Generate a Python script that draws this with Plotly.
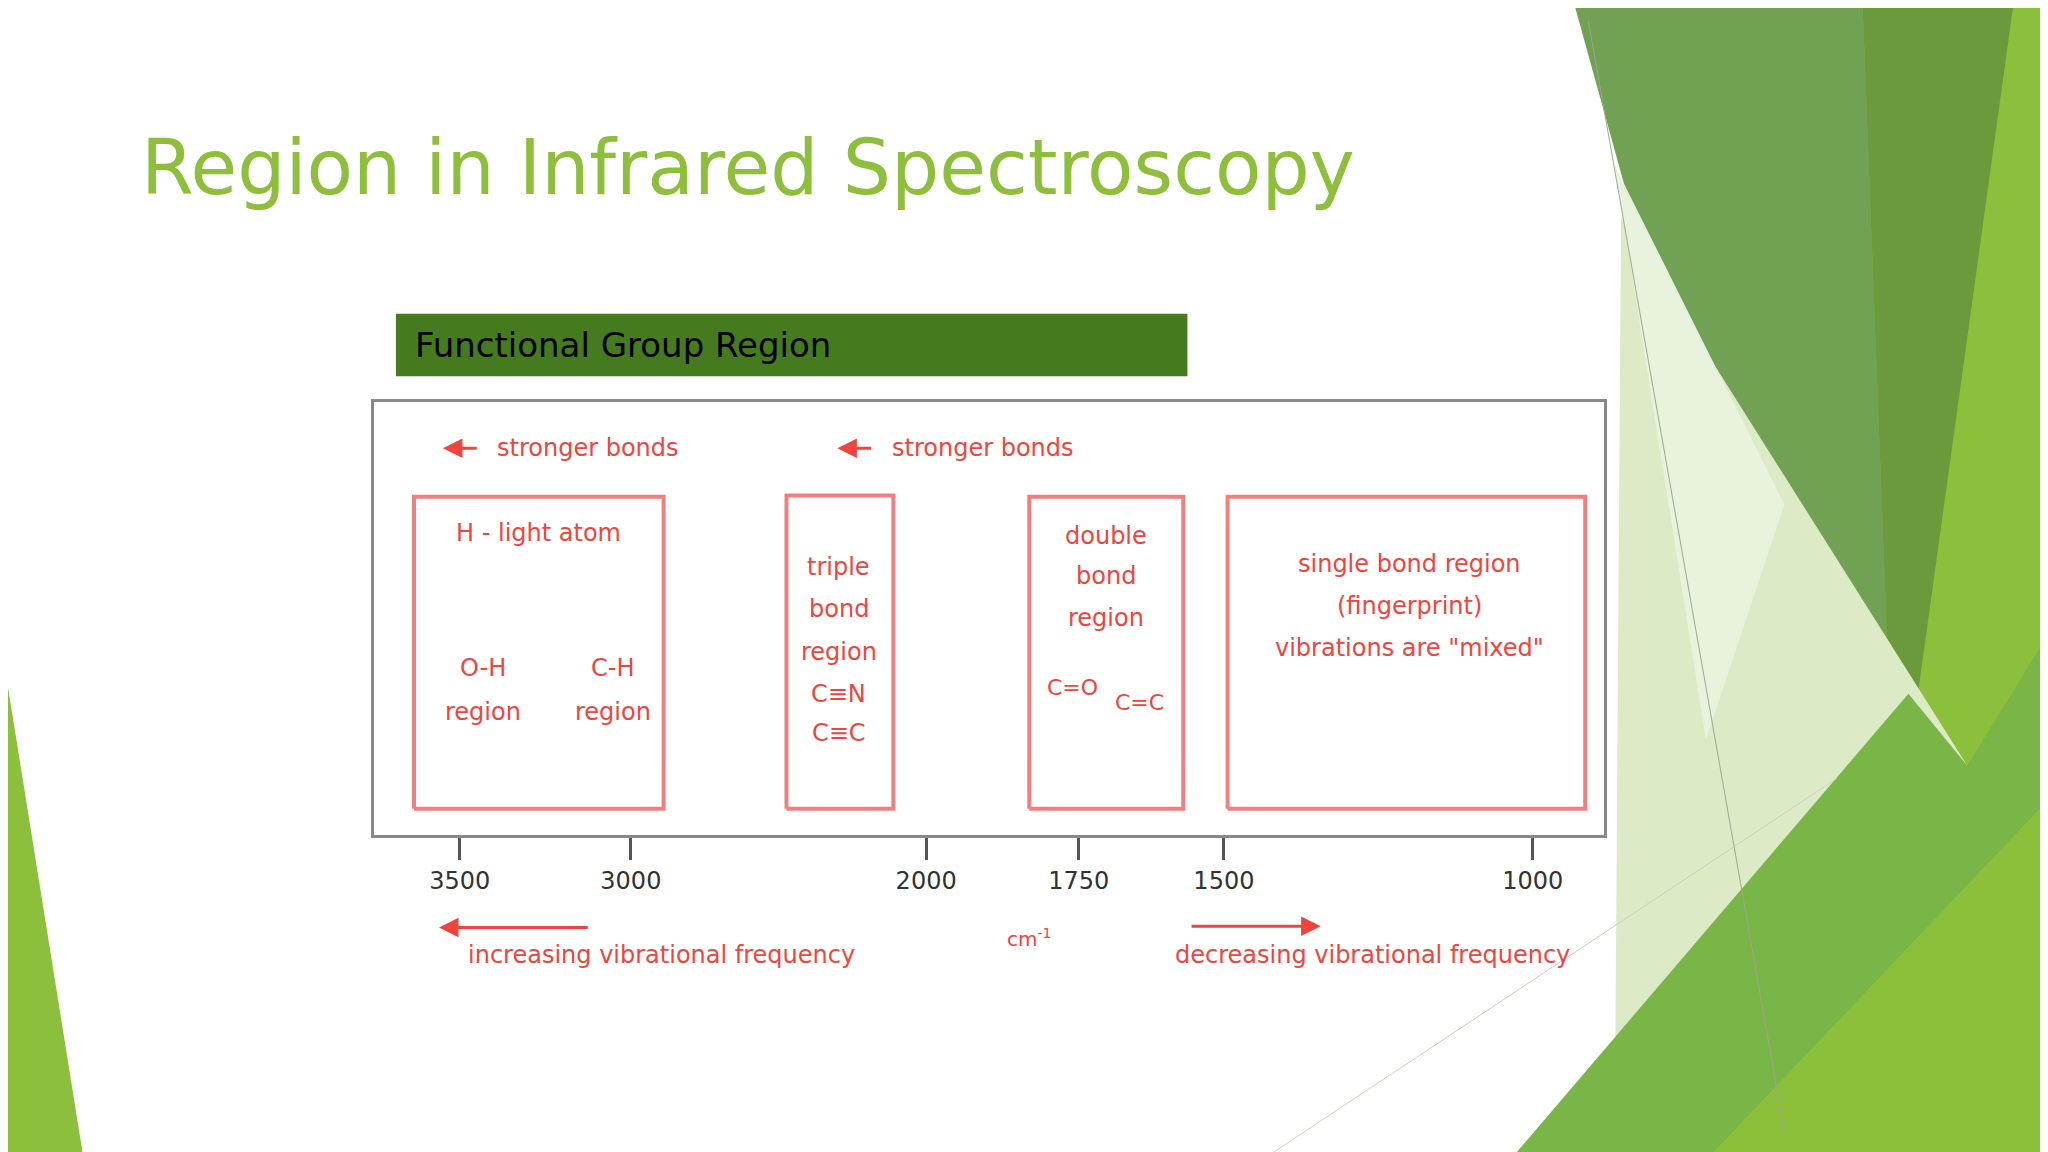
import numpy as np
import plotly.graph_objects as go

W, H = 2048, 1152
SW, SH = 1568.0, 882.0
def px(x): return x / SW
def py(y): return 1 - y / SH

# data
tick_values = [3500, 3000, 2000, 1750, 1500, 1000]
tick_labels = ["3500", "3000", "2000", "1750", "1500", "1000"]
tick_positions = [0.070, 0.209, 0.449, 0.573, 0.691, 0.942]  # nonlinear printed scale
region_names = ["H", "triple", "double", "single"]
region_left_cm = [3634, 2473, 1831, 1494]
region_right_cm = [2889, 2111, 1570, 915]
region_top = [0.782, 0.785, 0.782, 0.782]
region_bottom = [0.06, 0.06, 0.06, 0.06]

def wn(v):
    tv = np.array(tick_values[::-1], float); tp = np.array(tick_positions[::-1], float)
    v = float(v)
    if v > tv[-1]:
        return tp[-1] + (v - tv[-1]) * (tp[-1] - tp[-2]) / (tv[-1] - tv[-2])
    if v < tv[0]:
        return tp[0] + (v - tv[0]) * (tp[1] - tp[0]) / (tv[1] - tv[0])
    return float(np.interp(v, tv, tp))

RED = "#F0443C"
fig = go.Figure()
for i in range(len(region_names)):
    x0, x1 = wn(region_left_cm[i]), wn(region_right_cm[i])
    fig.add_trace(go.Scatter(x=[x0, x1, x1, x0, x0],
                             y=[region_bottom[i], region_bottom[i], region_top[i], region_top[i], region_bottom[i]],
                             mode="lines", line=dict(color="#F08080", width=4), hoverinfo="skip", showlegend=False))

shapes = []
def poly(pts, color):
    path = "M " + " L ".join(f"{px(x)},{py(y)}" for x, y in pts) + " Z"
    shapes.append(dict(type="path", xref="paper", yref="paper", path=path, fillcolor=color, line=dict(width=0), layer="below"))

poly([(1410, 0), (1568, 0), (1568, 882), (1380, 882)], "#8CBF3B")
poly([(1200, 0), (1420, 0), (1445, 650), (1330, 470)], "#71A152")
poly([(1420, 0), (1535, 0), (1445, 650)], "#6A9A3C")
poly([(1235, 160), (1500, 580), (1440, 650), (1230, 882)], "#DCEBC6")
poly([(1230, 120), (1360, 380), (1300, 560)], "#E9F2DC")
poly([(1150, 882), (1455, 525), (1500, 580), (1568, 470), (1568, 882)], "#7AB547")
poly([(1300, 882), (1568, 600), (1568, 882)], "#8DC03A")
poly([(0, 520), (0, 882), (58, 882)], "#8CBF3B")
shapes.append(dict(type="line", xref="paper", yref="paper", x0=px(1210), y0=py(10), x1=px(1360), y1=py(860), line=dict(color="#9AA890", width=1)))
shapes.append(dict(type="line", xref="paper", yref="paper", x0=px(960), y0=py(882), x1=px(1400), y1=py(590), line=dict(color="#C8D4C0", width=1)))
# banner
shapes.append(dict(type="rect", xref="paper", yref="paper", x0=px(297), x1=px(903), y0=py(282), y1=py(234), fillcolor="#467A1E", line=dict(width=0)))

ann = []
def txt(x, y, s, size=24, color=RED, anchor="center"):
    ann.append(dict(xref="paper", yref="paper", x=px(x), y=py(y), text=s, showarrow=False,
                    font=dict(size=size, color=color, family="DejaVu Sans"), xanchor=anchor, yanchor="middle"))
def arrow(x0, x1, y):
    ann.append(dict(xref="paper", yref="paper", axref="pixel", ayref="pixel", x=px(x1), y=py(y),
                    ax=(x0 - x1) * W / SW, ay=0,
                    text="", showarrow=True, arrowhead=2, arrowsize=1.3, arrowwidth=3, arrowcolor=RED))

txt(100, 122, "Region in Infrared Spectroscopy", 76, "#8DBF3A", "left")
txt(310, 258, "Functional Group Region", 34, "black", "left")
arrow(360, 333, 337); txt(373, 337, "stronger bonds", 24, anchor="left")
arrow(662, 635, 337); txt(675, 337, "stronger bonds", 24, anchor="left")
txt(406, 402, "H - light atom")
txt(364, 505, "O-H"); txt(364, 539, "region")
txt(463, 505, "C-H"); txt(463, 539, "region")
for yy, s in [(428, "triple"), (460, "bond"), (493, "region"), (525, "C≡N"), (555, "C≡C")]:
    txt(636, yy, s)
for yy, s in [(404, "double"), (435, "bond"), (467, "region")]:
    txt(841, yy, s)
txt(815, 520, "C=O", 22); txt(866, 532, "C=C", 22)
txt(1073, 426, "single bond region"); txt(1073, 458, "(fingerprint)"); txt(1073, 490, 'vibrations are "mixed"')
arrow(445, 330, 704); txt(500, 725, "increasing vibrational frequency")
arrow(905, 1005, 703); txt(1045, 725, "decreasing vibrational frequency")
txt(782, 712, "cm<sup>-1</sup>", 20)

fig.update_layout(
    width=W, height=H, paper_bgcolor="white", plot_bgcolor="white",
    margin=dict(l=0, r=0, t=0, b=0), shapes=shapes, annotations=ann,
    xaxis=dict(domain=[px(280), px(1222)], range=[0, 1], showgrid=False, zeroline=False,
               tickvals=[wn(v) for v in tick_values], ticktext=tick_labels, ticks="outside",
               ticklen=22, tickwidth=3, tickcolor="#555", showline=True, linecolor="#888", linewidth=3, mirror=True,
               tickfont=dict(size=24, color="#333", family="DejaVu Sans")),
    yaxis=dict(domain=[py(633), py(302)], range=[0, 1], showgrid=False, zeroline=False, showticklabels=False,
               showline=True, linecolor="#888", linewidth=3, mirror=True),
)
fig.write_html("out.html")
